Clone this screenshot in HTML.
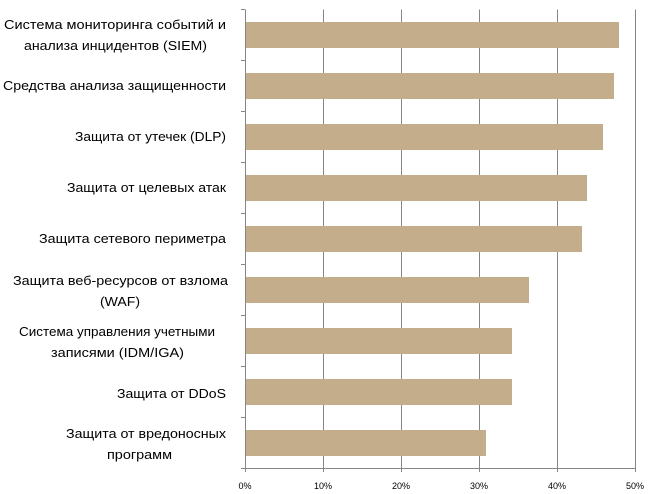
<!DOCTYPE html>
<html><head><meta charset="utf-8"><style>html,body{margin:0;padding:0;background:#fff}svg{display:block}</style></head>
<body>
<svg width="654" height="494" xmlns="http://www.w3.org/2000/svg" font-family="'Liberation Sans', sans-serif">
<g stroke="#868686" stroke-width="1">
<line x1="323.5" y1="9.5" x2="323.5" y2="472"/>
<line x1="401.5" y1="9.5" x2="401.5" y2="472"/>
<line x1="479.5" y1="9.5" x2="479.5" y2="472"/>
<line x1="557.5" y1="9.5" x2="557.5" y2="472"/>
<line x1="635.5" y1="9.5" x2="635.5" y2="472"/>
</g>
<g fill="#c4ad8b">
<rect x="245" y="22" width="374" height="26"/>
<rect x="245" y="73" width="369" height="26"/>
<rect x="245" y="124" width="358" height="26"/>
<rect x="245" y="175" width="342" height="26"/>
<rect x="245" y="226" width="337" height="26"/>
<rect x="245" y="277" width="284" height="26"/>
<rect x="245" y="328" width="267" height="26"/>
<rect x="245" y="379" width="267" height="26"/>
<rect x="245" y="430" width="241" height="26"/>
</g>
<g stroke="#868686" stroke-width="1">
<line x1="245.5" y1="9.5" x2="245.5" y2="472"/>
<line x1="241" y1="468.5" x2="636" y2="468.5"/>
<line x1="241" y1="9.5" x2="245" y2="9.5"/>
<line x1="241" y1="60.5" x2="245" y2="60.5"/>
<line x1="241" y1="111.5" x2="245" y2="111.5"/>
<line x1="241" y1="162.5" x2="245" y2="162.5"/>
<line x1="241" y1="213.5" x2="245" y2="213.5"/>
<line x1="241" y1="264.5" x2="245" y2="264.5"/>
<line x1="241" y1="315.5" x2="245" y2="315.5"/>
<line x1="241" y1="366.5" x2="245" y2="366.5"/>
<line x1="241" y1="417.5" x2="245" y2="417.5"/>
</g>
<g font-size="9" fill="#000" text-anchor="middle">
<text x="245" y="489">0%</text><text x="323" y="489">10%</text><text x="401" y="489">20%</text>
<text x="479" y="489">30%</text><text x="557" y="489">40%</text><text x="635" y="489">50%</text>
</g>
<g font-size="13" fill="#000" lengthAdjust="spacingAndGlyphs">
<text x="4" y="29" textLength="222" lengthAdjust="spacingAndGlyphs">Система мониторинга событий и</text>
<text x="24" y="50" textLength="183" lengthAdjust="spacingAndGlyphs">анализа инцидентов (SIEM)</text>
<text x="3" y="90" textLength="223" lengthAdjust="spacingAndGlyphs">Средства анализа защищенности</text>
<text x="75" y="141" textLength="151" lengthAdjust="spacingAndGlyphs">Защита от утечек (DLP)</text>
<text x="67" y="192" textLength="159" lengthAdjust="spacingAndGlyphs">Защита от целевых атак</text>
<text x="39" y="243" textLength="187" lengthAdjust="spacingAndGlyphs">Защита сетевого периметра</text>
<text x="13" y="285" textLength="215" lengthAdjust="spacingAndGlyphs">Защита веб-ресурсов от взлома</text>
<text x="100" y="306" textLength="40" lengthAdjust="spacingAndGlyphs">(WAF)</text>
<text x="19" y="336" textLength="196" lengthAdjust="spacingAndGlyphs">Система управления учетными</text>
<text x="51" y="357" textLength="133" lengthAdjust="spacingAndGlyphs">записями (IDM/IGA)</text>
<text x="117" y="398" textLength="109" lengthAdjust="spacingAndGlyphs">Защита от DDoS</text>
<text x="66" y="438" textLength="160" lengthAdjust="spacingAndGlyphs">Защита от вредоносных</text>
<text x="107" y="459" textLength="65" lengthAdjust="spacingAndGlyphs">программ</text>
</g>
</svg>
</body></html>
